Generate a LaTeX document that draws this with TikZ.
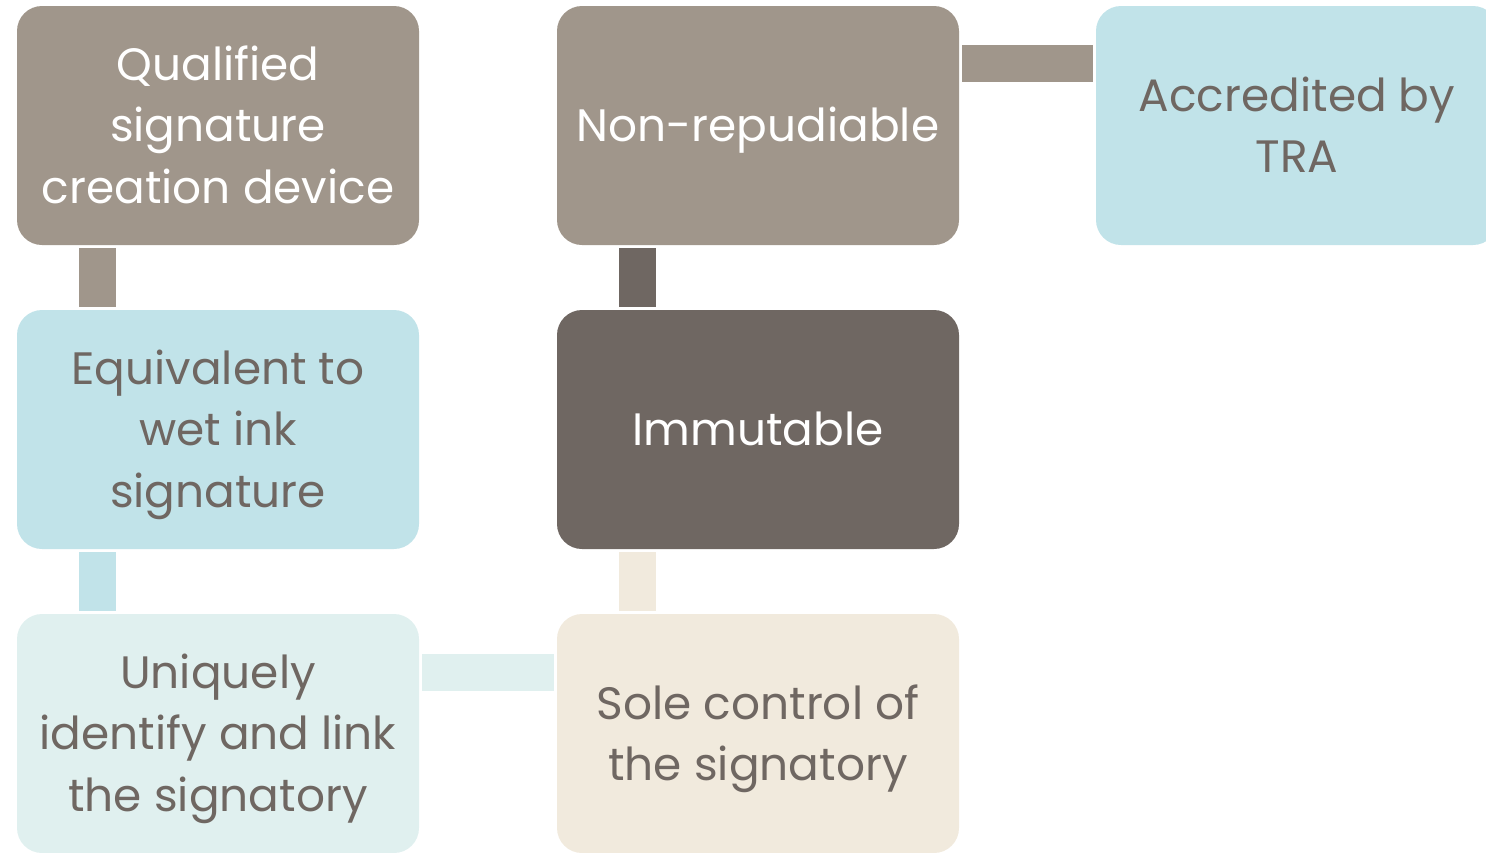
\documentclass[tikz,border=0pt]{standalone}
\usepackage{fontspec}
\setmainfont{Poppins}
\definecolor{taupe}{HTML}{A0968B}
\definecolor{darkbrown}{HTML}{6F6762}
\definecolor{lightblue}{HTML}{C1E3E9}
\definecolor{palecyan}{HTML}{E0F0EF}
\definecolor{cream}{HTML}{F1EADD}
\definecolor{txtdark}{HTML}{6F6762}
\tikzset{
  card/.style={rectangle, rounded corners=12.5pt, minimum width=201pt, minimum height=119.5pt,
    inner sep=0pt},
  cardtext/.style={yshift=-2.5pt, inner sep=0pt, align=center, text depth=6pt, font=\fontsize{22.7}{30.75}\selectfont},
  conn/.style={line width=18.5pt, shorten <=1.5pt, shorten >=1.5pt},
}
\begin{document}
\begin{tikzpicture}[x=0.5pt,y=-0.5pt]
\useasboundingbox (0,0) rectangle (1486,852);
\clip (0,0) rectangle (1486,852);
\node[card, fill=taupe, label={[cardtext, text=white]center:{Qualified\\signature\\creation device}}] (A) at (218,125.5) {};
\node[card, fill=taupe, label={[cardtext, text=white]center:{Non-repudiable}}] (B) at (758,125.5) {};
\node[card, fill=lightblue, label={[cardtext, text=txtdark]center:{Accredited by\\TRA}}] (C) at (1297,125.5) {};
\node[card, fill=lightblue, label={[cardtext, text=txtdark]center:{Equivalent to\\wet ink\\signature}}] (D) at (218,429.5) {};
\node[card, fill=darkbrown, label={[cardtext, text=white]center:{Immutable}}] (E) at (758,429.5) {};
\node[card, fill=palecyan, label={[cardtext, text=txtdark]center:{Uniquely\\identify and link\\the signatory}}] (F) at (218,733.5) {};
\node[card, fill=cream, label={[cardtext, text=txtdark]center:{Sole control of\\the signatory}}] (G) at (758,733.5) {};
\draw[conn, taupe] ([xshift=-60.25pt]A.south) -- ([xshift=-60.25pt]D.north);
\draw[conn, lightblue] ([xshift=-60.25pt]D.south) -- ([xshift=-60.25pt]F.north);
\draw[conn, darkbrown] ([xshift=-60.25pt]B.south) -- ([xshift=-60.25pt]E.north);
\draw[conn, cream] ([xshift=-60.25pt]E.south) -- ([xshift=-60.25pt]G.north);
\draw[conn, taupe] ([yshift=31pt]B.east) -- ([yshift=31pt]C.west);
\draw[conn, palecyan] ([yshift=30.75pt]F.east) -- ([yshift=30.75pt]G.west);
\end{tikzpicture}
\end{document}
